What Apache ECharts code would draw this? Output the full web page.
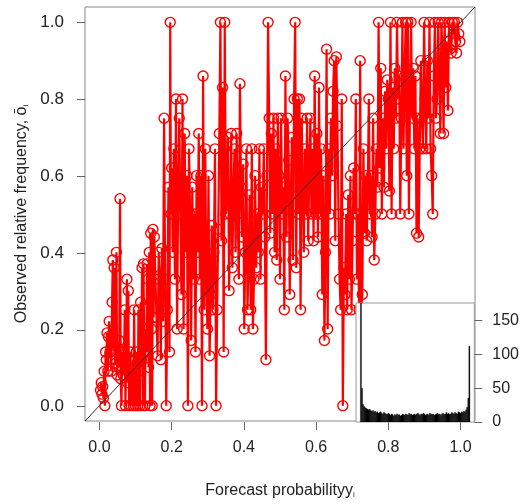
<!DOCTYPE html>
<html>
<head>
<meta charset="utf-8">
<script src="https://cdn.jsdelivr.net/npm/echarts@6/dist/echarts.min.js"></script>
<style>html,body{margin:0;padding:0;background:#fff;}#c{width:522px;height:504px;}</style>
</head>
<body>
<div id="c"></div>
<script>
// Forecast probability (x) and observed relative frequency (y) for each bin
const forecastProb = [
 .003,.005,.007,.009,.011,.013,.015,.017,.019,.021,.023,.025,.027,.029,.031,.033,.035,.037,.039,.041,.043,.045,.047,.049,.051,.053,.055,.057,.059,
 .061,.063,.066,.068,.070,.072,.074,.076,.078,.080,.082,.084,.086,.088,.090,.092,.094,.096,.098,.100,.102,.104,.106,.108,.110,.112,.114,.116,.118,.120,.122,.124,.126,.128,.130,.132,.134,.136,.138,.140,.142,.144,.146,.148,.150,
 .152,.155,.158,.161,.164,.167,.170,.173,.176,.179,.182,.185,.188,.191,.194,.196,.198,.200,
 .203,.206,.209,.212,.215,.218,.221,.224,.227,.230,.233,.236,.239,.242,.245,.248,.251,.254,.257,.260,.263,.266,.269,.272,.275,.278,.281,.284,.287,.290,.293,.296,.299,.302,.305,.308,.311,.314,.317,.320,.323,.326,.329,.332,.335,.338,.341,.344,.347,.350,
 .353,.356,.359,.362,.365,.368,.371,.374,.377,.380,.383,.386,.389,.392,.395,.398,.401,.404,.407,.410,.413,.416,.419,.422,.425,.428,.431,.434,.437,.440,.443,.446,.449,.452,.455,.458,.461,.464,.467,.470,.473,.476,.479,.482,.485,.488,.491,.494,.497,.500,.503,.506,.509,.512,.515,.518,.521,.524,.527,.530,.533,.536,.539,.542,.545,.548,.551,
 .554,.557,.560,.563,.566,.569,.572,.575,.578,.581,.584,.587,.590,.593,.596,.599,.602,.605,.608,.611,.614,.617,.620,.623,.626,.629,.632,.635,.638,.641,.644,.647,.650,.653,.656,.659,.662,.665,.668,.671,.674,.677,.680,.683,.686,.689,.692,.695,.698,.701,.704,.707,.710,.713,.716,.719,
 .722,.725,.728,.731,.734,.737,.740,.743,.746,.749,.752,.755,.758,.761,.764,.767,.770,.773,.776,.779,.782,.785,.788,.791,.794,.797,.800,
 .803,.806,.809,.812,.815,.818,.821,.824,.827,.830,.833,.836,.839,.842,.845,.848,.851,.854,.857,.860,.863,.866,.869,.872,.875,.878,.881,.884,.887,.890,.893,.896,.899,.902,.905,.908,.911,.914,.917,.920,.923,.926,.929,.932,.935,.938,.941,.944,.947,.950,.953,.956,.959,.962,.965,.968,.971,.974,.977,.980,.983,.986,.989,.992,.995,.998
];
const observedFreq = [
 .04,.06,.03,.05,.02,.09,0,.14,.12,.19,.09,.18,.22,.14,.12,.09,.27,.38,.15,.36,.11,.12,.40,.08,.15,.10,.17,.54,.07,
 0,.14,.08,.11,.25,0,.13,.33,.06,.30,0,.12,.14,0,.09,.10,0,.25,.07,0,.14,.11,0,.25,.09,0,.27,.12,.36,0,.37,.14,0,.20,.14,.37,.33,.10,.40,0,.45,.20,0,.46,.23,
 .44,.33,.23,.13,.40,.34,.12,.41,.22,.75,.33,0,.25,.57,.14,1.0,.50,.62,
 .40,.67,.33,.80,.20,.55,.75,.50,.29,.80,.20,.71,.40,.60,0,.67,.50,.17,.57,.33,.50,.14,.60,.40,.71,.33,.60,0,.86,.25,.67,.33,.20,.60,.13,.29,.47,.25,.40,.67,0,.25,.46,.71,1.0,.43,.83,.14,1.0,.50,
 .56,.70,.30,.50,.71,.36,.55,.67,.40,.71,.50,.33,.84,.57,.44,.63,.20,.40,.67,.25,.38,.55,.25,.67,.20,.33,.60,.36,.50,.40,.67,.33,.57,.50,.67,.44,.12,.60,1.0,.75,.45,.71,.50,.75,.40,.67,.38,.75,.60,.33,.75,.50,.57,.25,.86,.44,.75,.64,.29,.55,.70,.38,.80,1.0,.36,.80,.50,
 .80,.25,.75,.57,.40,.67,.50,.75,.43,.60,.75,.50,.67,.43,.86,.50,.71,.44,.83,.50,.67,.29,.60,.17,.40,.93,.20,.67,.50,.75,.60,.82,.90,.43,.91,.73,.50,.33,.25,.80,0,.36,.29,.50,.25,.55,.33,.60,.25,.43,.62,.50,.80,.33,.50,.25,
 .90,.25,.29,.67,.45,.60,.43,.55,.80,.50,.60,.44,.75,.38,.50,.67,.57,1.0,.62,.88,.50,.75,.57,.82,.67,.85,.80,
 .56,1.0,.50,.83,.67,.88,.75,1.0,.80,.86,.50,.75,1.0,.67,.86,1.0,.60,1.0,.50,.80,1.0,.75,.88,.67,.86,.45,.75,.44,.67,.90,.75,.67,1.0,.80,.67,.90,.75,1.0,.67,.60,.50,.86,1.0,.75,.80,1.0,.86,.71,1.0,.92,.71,1.0,.83,.95,.77,1.0,.93,.92,1.0,.97,1.0,.95,.92,1.0,.97,.95
];
// Perfect-reliability reference line (axis extent)
const diagonal = [[-0.04, -0.04], [1.04, 1.04]];
// Inset histogram of forecast probabilities (bins of width 0.01 over [0,1])
const histBinStart = 0;
const histBinWidth = 0.01;
const histCounts = [
 190,50,26,23,21,20,19,18,19,17,
 16,17,15,16,14,15,13,14,15,13,
 12,14,13,12,11,13,12,10,12,11,
 9,11,10,12,10,11,9,10,12,11,
 10,12,11,10,13,11,12,10,11,12,
 10,12,13,11,10,12,11,13,12,10,
 11,12,10,13,12,11,12,10,11,12,
 13,11,12,10,12,13,11,12,14,12,
 13,11,12,14,13,12,14,13,12,15,
 14,13,15,14,16,15,18,22,35,112
];
const AXIS_MIN = -0.04, AXIS_MAX = 1.04;

const reliability = forecastProb.map((x, i) => [x, observedFreq[i]]);
const histData = histCounts.map((c, i) => [histBinStart + i * histBinWidth, histBinStart + (i + 1) * histBinWidth, c]);

// Layout of the main plot box, and a tick grid spanning exactly [0,1] inside it
const BOX = {left: 85, top: 7, width: 390, height: 415};
const span = AXIS_MAX - AXIS_MIN;
const TICKGRID = {
  left: BOX.left + (0 - AXIS_MIN) / span * BOX.width,
  top: BOX.top + (AXIS_MAX - 1) / span * BOX.height,
  width: BOX.width / span,
  height: BOX.height / span
};
const xOff = (BOX.top + BOX.height) - (TICKGRID.top + TICKGRID.height);
const yOff = TICKGRID.left - BOX.left;

const FONT = 'Liberation Sans, Arial, sans-serif';
const chart = echarts.init(document.getElementById('c'), null, {renderer: 'canvas'});
chart.setOption({
  animation: false,
  backgroundColor: '#fff',
  grid: [
    {left: BOX.left, top: BOX.top, width: BOX.width, height: BOX.height, show: true, borderColor: '#888', borderWidth: 1},
    {left: 356, top: 303, width: 119, height: 119, show: true, borderColor: '#999', borderWidth: 1, backgroundColor: '#fff', z: 10},
    {left: TICKGRID.left, top: TICKGRID.top, width: TICKGRID.width, height: TICKGRID.height, show: false}
  ],
  xAxis: [
    {gridIndex: 0, type: 'value', min: AXIS_MIN, max: AXIS_MAX,
     axisLine: {show: false, onZero: false}, splitLine: {show: false}, axisTick: {show: false}, axisLabel: {show: false},
     name: 'Forecast probabilityy{s|i}', nameLocation: 'middle', nameGap: 62,
     nameTextStyle: {fontSize: 16, color: '#222', fontFamily: FONT, rich: {s: {fontSize: 8, color: '#222', fontFamily: FONT, verticalAlign: 'bottom'}}}
    },
    {gridIndex: 1, type: 'value', min: AXIS_MIN, max: AXIS_MAX, show: false, axisLine: {onZero: false}},
    {gridIndex: 2, type: 'value', min: 0, max: 1, interval: 0.2, position: 'bottom', offset: xOff,
     axisLine: {show: false, onZero: false}, splitLine: {show: false},
     axisTick: {show: true, length: 8, lineStyle: {color: '#666', width: 1}},
     axisLabel: {formatter: v => v.toFixed(1), margin: 18, fontSize: 16, color: '#222', fontFamily: FONT}}
  ],
  yAxis: [
    {gridIndex: 0, type: 'value', min: AXIS_MIN, max: AXIS_MAX,
     axisLine: {show: false, onZero: false}, splitLine: {show: false}, axisTick: {show: false}, axisLabel: {show: false},
     name: 'Observed relative frequency, ō{s|i}', nameLocation: 'middle', nameGap: 55, nameRotate: 90,
     nameTextStyle: {fontSize: 16, color: '#222', fontFamily: FONT, rich: {s: {fontSize: 8, color: '#222', fontFamily: FONT, verticalAlign: 'bottom'}}}
    },
    {gridIndex: 1, type: 'value', position: 'right', min: 0, max: 176, interval: 50, z: 12,
     axisLine: {show: false, onZero: false}, splitLine: {show: false},
     axisTick: {show: true, length: 8, lineStyle: {color: '#666'}},
     axisLabel: {margin: 18, fontSize: 16, color: '#222', fontFamily: FONT, showMaxLabel: false}
    },
    {gridIndex: 2, type: 'value', min: 0, max: 1, interval: 0.2, position: 'left', offset: yOff,
     axisLine: {show: false, onZero: false}, splitLine: {show: false},
     axisTick: {show: true, length: 8, lineStyle: {color: '#666', width: 1}},
     axisLabel: {formatter: v => v.toFixed(1), margin: 21, fontSize: 17, color: '#222', fontFamily: FONT}}
  ],
  series: [
    {type: 'line', xAxisIndex: 0, yAxisIndex: 0, data: reliability, z: 2,
     symbol: 'circle', symbolSize: 10, showAllSymbol: true,
     lineStyle: {color: '#ff0000', width: 2.2},
     itemStyle: {color: 'rgba(255,255,255,0)', borderColor: '#ff0000', borderWidth: 1.4}},
    {type: 'line', xAxisIndex: 0, yAxisIndex: 0, data: diagonal, z: 3, symbol: 'none',
     lineStyle: {color: '#333', width: 1}},
    {type: 'custom', xAxisIndex: 1, yAxisIndex: 1, data: histData, z: 11, clip: true,
     renderItem: function (params, api) {
       const p0 = api.coord([api.value(0), api.value(2)]);
       const p1 = api.coord([api.value(1), 0]);
       return {type: 'rect', shape: {x: p0[0], y: p0[1], width: p1[0] - p0[0], height: p1[1] - p0[1]},
               style: {fill: '#000', stroke: '#000', lineWidth: 0.3}};
     }}
  ]
});
</script>
</body>
</html>
